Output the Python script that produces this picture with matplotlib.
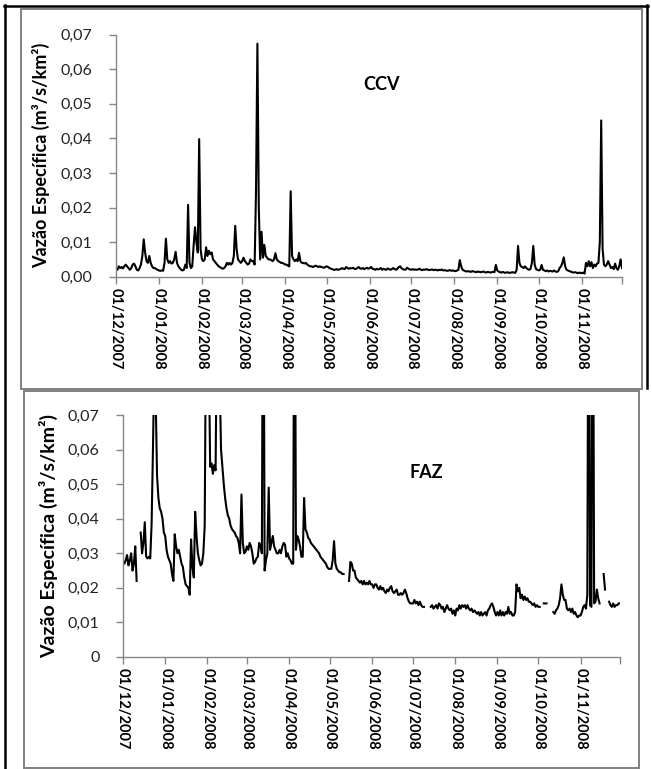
import numpy as np
import matplotlib.pyplot as plt
from matplotlib.lines import Line2D
from matplotlib.patches import Rectangle

plt.rcParams['font.family'] = ['Lato', 'DejaVu Sans']

# eixo x: dias desde 01/12/2007 (366 dias)
month_labels = ['01/12/2007', '01/01/2008', '01/02/2008', '01/03/2008',
                '01/04/2008', '01/05/2008', '01/06/2008', '01/07/2008',
                '01/08/2008', '01/09/2008', '01/10/2008', '01/11/2008']
month_days = [31, 31, 29, 31, 30, 31, 30, 31, 31, 30, 31, 30]

# vazao especifica diaria CCV (x 0,001 m3/s/km2)
ccv = [
    # dez
    2.5, 2.0, 3.0, 2.5, 2.8, 2.4, 3.0, 3.5, 3.0, 2.5, 2.0, 2.5, 3.5, 3.8, 3.0, 2.0,
    1.8, 2.5, 3.5, 6.0, 10.8, 7.0, 4.5, 4.0, 6.0, 4.0, 3.0, 2.5, 2.5, 2.2, 2.0,
    # jan
    1.8, 1.7, 1.8, 1.7, 4.0, 11.0, 5.0, 4.0, 4.5, 3.8, 4.0, 5.0, 7.2, 4.0, 3.0, 2.5,
    2.0, 1.8, 2.0, 3.5, 2.5, 20.8, 4.0, 2.5, 3.0, 9.0, 14.3, 10.0, 7.0, 39.8, 8.0,
    # fev
    5.0, 4.5, 5.0, 8.5, 6.0, 7.5, 6.5, 7.0, 5.0, 4.5, 4.0, 3.5, 3.0, 2.8, 2.5,
    2.3, 2.5, 3.0, 4.0, 3.5, 4.0, 3.5, 4.0, 6.0, 14.7, 8.0, 5.0, 4.5, 4.0,
    # mar
    4.5, 5.5, 4.5, 4.0, 3.5, 3.8, 5.0, 4.5, 4.5, 3.5, 25.0, 67.4, 20.0, 5.0, 13.0, 5.5,
    9.2, 6.0, 5.5, 5.0, 5.0, 4.8, 4.5, 5.0, 6.8, 5.0, 4.5, 4.3, 4.0, 4.0, 3.8,
    # abr
    3.5, 3.5, 3.2, 3.0, 24.7, 6.0, 5.0, 4.5, 5.0, 4.5, 6.9, 4.5, 4.0, 4.0, 3.8,
    4.0, 3.5, 3.2, 3.0, 3.0, 2.8, 3.0, 3.2, 3.0, 2.8, 3.0, 2.8, 2.7, 2.6, 2.8,
    # mai
    3.0, 2.8, 2.5, 2.3, 2.2, 2.0, 2.0, 2.2, 2.0, 2.1, 2.2, 2.5, 2.3, 2.2, 2.8, 2.5,
    2.3, 2.5, 2.4, 2.6, 2.3, 2.2, 2.5, 2.8, 2.4, 2.3, 2.5, 2.2, 2.4, 2.6, 2.3,
    # jun
    2.5, 2.8, 2.3, 2.2, 2.0, 2.3, 2.1, 2.2, 2.5, 2.0, 2.3, 2.1, 2.0, 2.4, 2.2,
    2.0, 2.2, 2.5, 2.2, 2.0, 2.3, 2.8, 3.0, 2.4, 2.2, 2.0, 2.1, 2.6, 2.3, 2.1,
    # jul
    2.0, 2.2, 2.0, 2.1, 2.0, 2.1, 2.3, 2.0, 1.9, 2.1, 2.0, 2.2, 2.0, 1.9, 2.0, 2.1,
    1.9, 2.0, 2.0, 1.8, 2.0, 1.9, 2.1, 1.8, 1.9, 1.8, 1.7, 1.8, 1.9, 1.7, 1.8,
    # ago
    1.7, 1.6, 1.8, 2.0, 4.8, 3.0, 2.0, 1.8, 1.6, 1.5, 1.6, 1.5, 1.4, 1.6, 1.5, 1.4,
    1.3, 1.5, 1.4, 1.3, 1.4, 1.5, 1.3, 1.2, 1.4, 1.3, 1.2, 1.3, 1.4, 1.3, 3.4,
    # set
    1.8, 1.5, 1.3, 1.2, 1.4, 1.2, 1.1, 1.3, 1.2, 1.1, 1.2, 1.3, 1.2, 1.1, 2.0,
    8.9, 4.0, 3.0, 2.8, 2.5, 3.0, 2.5, 2.2, 2.0, 2.2, 4.0, 8.9, 3.5, 2.2, 2.0,
    # out
    1.8, 2.0, 3.4, 2.0, 1.8, 1.6, 1.8, 1.5, 1.7, 1.6, 1.5, 1.8, 1.5, 1.4, 1.6, 2.5,
    3.0, 4.0, 5.6, 3.0, 2.0, 1.8, 1.6, 1.5, 1.3, 1.2, 1.3, 1.2, 1.0, 1.2, 1.1,
    # nov
    1.0, 1.2, 0.9, 4.0, 3.0, 4.5, 3.0, 4.2, 2.5, 3.5, 3.0, 3.8, 4.0, 10.0, 45.2,
    8.0, 3.5, 3.0, 3.5, 4.5, 3.5, 2.5, 2.8, 2.2, 3.8, 2.5, 2.0, 3.0, 5.0, 2.5,
]

nan = np.nan
# vazao especifica diaria FAZ (x 0,001 m3/s/km2), nan = falha
faz = [
    # dez
    27, 27, 28, 29.5, 26.5, 28, 30, 25, 27, 32, 22, nan, nan, 36, 30, 33,
    39, 29, 28.5, 29, 28.5, 38.5, 60, 85, 75, 52.5, 46, 43, 42, 40, 36,
    # jan
    35, 31, 29, 28, 27, 24, 22, 35.5, 32, 30, 31, 29, 27, 26, 23, 21,
    20.5, 20, 18, 34, 26, 23, 42, 35, 30, 28, 26.5, 27, 30, 38, 100,
    # fev
    150, 90, 55, 56, 53, 55.5, 54, 100, 150, 80, 60, 55, 50, 46, 43,
    41, 40, 38, 37, 36.5, 36, 35, 34.5, 33, 30, 47, 33, 30, 30.5,
    # mar
    32, 31, 33, 32, 30, 27, 27.5, 28.5, 29, 33, 32, 30, 150, 25, 28, 30,
    49, 31, 33, 35, 32, 31, 30, 30, 31, 30, 32, 33, 32.5, 29, 30,
    # abr
    28.5, 28, 27, 27, 150, 31, 35, 34, 32, 29, 29, 46, 37, 36, 34.5,
    34, 33, 32.5, 32, 31.5, 31, 30.5, 30, 29, 28.5, 28, 27.5, 27, 26, 25.5,
    # mai
    25.5, 25.5, 28, 33.5, 27, 25.5, 25, 24.5, 24.5, 24, 24, nan, nan, nan, 22, 27.5,
    27, 25, 25, 23, 22.5, 22, 21.5, 22, 21, 22, 21, 21.5, 21, 22, 21,
    # jun
    21, 20, 21, 21, 20, 19.5, 20.5, 19.5, 20, 19, 18.5, 19.5, 19, 20, 20.5,
    19, 18.5, 19, 19.5, 18, 18, 18.5, 18, 18.5, 19.5, 18.5, 17, 16, 15.5, 15.5,
    # jul
    15.5, 16.5, 15.5, 16, 15, 16, 15, 14.5, 14.5, nan, nan, nan, nan, 14.5, 15, 14,
    14.5, 15, 14, 15.5, 15, 14, 14.5, 13, 14, 15, 14, 13.5, 14, 12.5, 13.5,
    # ago
    12, 14, 13.5, 15, 14, 15, 14.5, 15, 14, 15, 14, 13.5, 14, 13, 13.5, 13,
    12.5, 13, 12, 13, 12, 12.5, 13, 12, 13.5, 14, 15, 15.5, 14.5, 13, 12,
    # set
    13, 12, 13.5, 12, 13, 12, 13, 12.5, 14.5, 12.5, 13, 12, 12, 13, 21,
    19, 20, 17, 18, 16.5, 17.5, 16.5, 17, 16, 16, 15.5, 15, 15.5, 14.5, 15,
    # out
    14.5, 14.5, nan, nan, 15.5, 15.5, 15.5, nan, nan, nan, nan, 13, 12.5, 13.5, 14, 15,
    17, 21, 18, 16.5, 16.5, 14, 13.5, 14, 13, 14, 12.5, 13, 12, 11.5, 12,
    # nov
    12, 13, 14.5, 15, 14, 18, 150, 15, 14.5, 150, 15.5, 16, 19.5, 17, 15.5,
    nan, nan, 24, 19.5, nan, nan, 16, 15, 14.5, 15.5, 14.5, 15, 15, 15.5, 15.5,
]

days = np.arange(len(ccv))
month_starts = np.concatenate([[0], np.cumsum(month_days)[:-1]])

W, H = 652, 769
fig = plt.figure(figsize=(W / 100, H / 100), dpi=100)

# molduras da pagina
def fig_line(x0, y0, x1, y1, color, lw):
    fig.add_artist(Line2D([x0 / W, x1 / W], [1 - y0 / H, 1 - y1 / H],
                          color=color, lw=lw, transform=fig.transFigure))

fig_line(4, 5.5, 648, 5.5, 'black', 1.8)
fig_line(5, 5, 5, 769, 'black', 1.8)
fig_line(647, 5, 647, 388, 'black', 1.8)
fig.add_artist(Rectangle((21 / W, 1 - 389 / H), 621 / W, 380 / H, fill=False,
                         ec='#808080', lw=1.4, transform=fig.transFigure))
fig.add_artist(Rectangle((24 / W, 1 - 768 / H), 615 / W, 377 / H, fill=False,
                         ec='#808080', lw=1.4, transform=fig.transFigure))

def style_axis(ax, ylabels, lab_x, lab_size):
    for s in ['top', 'right']:
        ax.spines[s].set_visible(False)
    for s in ['left', 'bottom']:
        ax.spines[s].set_color('#868686')
        ax.spines[s].set_linewidth(1.0)
    ax.set_xlim(0, 365)
    ax.set_ylim(0, 0.07)
    ax.set_yticks(np.arange(8) * 0.01)
    ax.set_yticklabels(ylabels, fontsize=11.5, color='#222222')
    ax.set_xticks(month_starts)
    ax.set_xticks([365], minor=True)
    ax.set_xticklabels(month_labels, rotation=270, fontsize=10.5,
                       fontweight='bold', va='top', ha='center')
    ax.tick_params(axis='both', which='both', direction='out', length=5,
                   color='#868686', width=1.0)
    ax.tick_params(axis='x', pad=3)
    ax.tick_params(axis='y', pad=12)
    ax.set_ylabel('Vazão Específica (m³/s/km²)', fontsize=lab_size,
                  fontweight='bold')
    ax.yaxis.set_label_coords(lab_x, 0.5)

# CCV
ax1 = fig.add_axes([116 / W, 1 - 276.7 / H, 506 / W, 242 / H])
ax1.plot(days, np.array(ccv) / 1000, color='black', lw=1.5)
style_axis(ax1, ['0,00', '0,01', '0,02', '0,03', '0,04', '0,05', '0,06', '0,07'],
           -0.13, 13)
ax1.text(0.524, 0.796, 'CCV', transform=ax1.transAxes, fontsize=13,
         fontweight='bold', ha='center', va='center')

# FAZ
ax2 = fig.add_axes([123 / W, 1 - 657 / H, 497 / W, 242 / H])
ax2.plot(days, np.array(faz) / 1000, color='black', lw=1.5)
style_axis(ax2, ['0', '0,01', '0,02', '0,03', '0,04', '0,05', '0,06', '0,07'],
           -0.13, 14)
ax2.text(0.61, 0.764, 'FAZ', transform=ax2.transAxes, fontsize=13,
         fontweight='bold', ha='center', va='center')

fig.savefig('out.png', dpi=100)
